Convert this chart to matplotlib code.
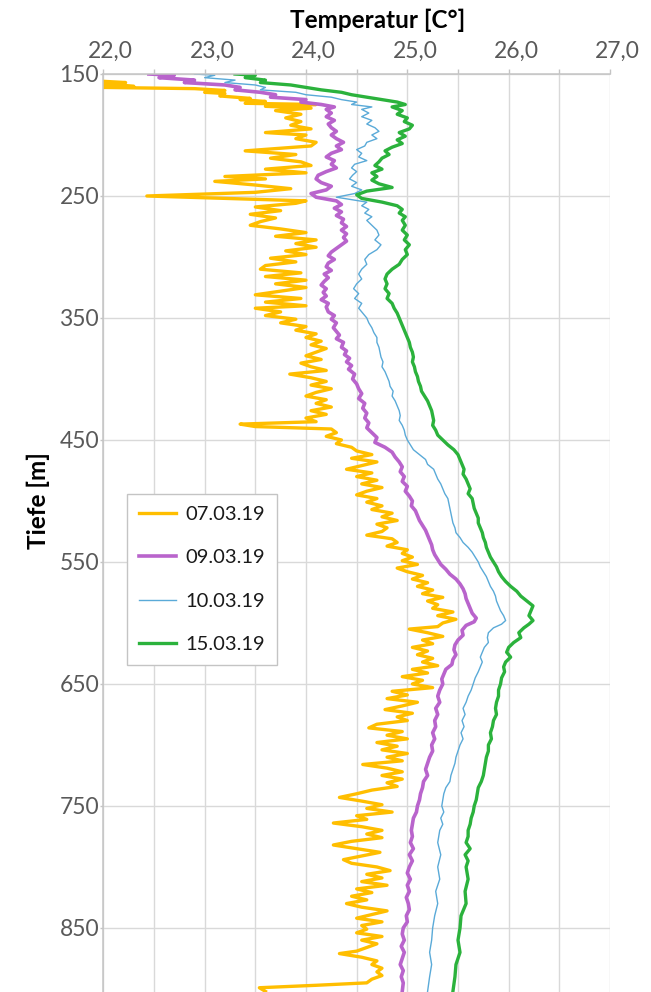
import matplotlib.pyplot as plt
from matplotlib.ticker import MultipleLocator, FuncFormatter
from matplotlib.transforms import ScaledTranslation

plt.rcParams['font.family'] = ['Lato', 'DejaVu Sans']

dates = ['07.03.19', '09.03.19', '10.03.19', '15.03.19']
colors = ['#FFBE00', '#B964CC', '#5AAAD8', '#2BB23C']
widths = [2.4, 2.6, 1.0, 2.4]

# Messung 07.03.19
tiefe_0703 = [156, 157, 158, 160, 161, 162, 163.5, 165, 166, 168, 170, 171, 172.5, 174, 175, 176.5,
              178, 180, 183, 186, 189, 192, 195, 198, 200, 203, 206, 209, 213, 216, 219, 222, 225,
              228, 231, 234, 236, 238, 241, 244, 247, 250, 252, 254, 256, 259, 262, 265, 268, 271,
              274, 277, 280, 283, 286, 289, 292, 295, 298, 301, 304, 307, 310, 313, 316, 319, 322,
              325, 328, 331, 334, 337, 340, 342, 345, 348, 351, 354, 357, 360, 363, 366, 369, 372,
              375, 378, 381, 384, 387, 390, 393, 396, 399, 402, 405, 408, 411, 414, 417, 420, 423,
              426, 429, 432, 435, 437, 439, 441, 444, 447, 450, 453, 456, 459, 462, 465, 468, 471,
              474, 477, 480, 483, 486, 489, 492, 495, 498, 501, 504, 507, 510, 513, 516, 519, 522,
              525, 528, 531, 534, 537, 540, 543, 546, 549, 552, 555, 558, 561, 564, 567, 570, 573,
              576, 579, 582, 585, 588, 591, 594, 597, 600, 603, 605, 608, 611, 614, 617, 620, 623,
              626, 629, 632, 635, 638, 641, 644, 647, 650, 653, 656, 659, 662, 665, 668, 671, 674,
              677, 680, 683, 686, 689, 692, 695, 698, 701, 704, 707, 710, 713, 716, 719, 722, 725,
              728, 731, 734, 737, 740, 743, 746, 749, 752, 755, 758, 761, 764, 767, 770, 773, 776,
              779, 782, 785, 788, 791, 794, 797, 800, 803, 806, 809, 812, 815, 818, 821, 824, 827,
              830, 833, 836, 839, 842, 845, 848, 851, 854, 857, 860, 863, 866, 869, 871, 874, 877,
              880, 883, 886, 889, 892, 895, 897, 899, 902]
temp_0703 = [22.0, 22.22, 22.0, 22.3, 22.0, 22.9, 23.2, 23.0, 23.2, 23.15, 23.45, 23.35, 23.6, 23.4, 24.1, 23.6,
             24.05, 23.7, 23.95, 23.8, 23.95, 23.85, 24.05, 23.6, 24.0, 23.9, 24.1, 24.05, 23.4, 23.9, 23.65, 23.95, 24.05,
             23.6, 24.0, 23.2, 23.6, 23.1, 23.5, 23.85, 23.5, 22.43, 23.2, 24.0, 23.9, 23.5, 23.75, 23.45, 23.7, 23.55,
             23.45, 23.75, 24.0, 23.7, 24.1, 23.9, 24.1, 23.8, 24.0, 23.65, 23.9, 23.6, 23.55, 23.95, 23.6, 24.0, 23.7,
             24.0, 23.75, 23.5, 23.95, 23.6, 24.0, 23.5, 23.75, 23.6, 23.9, 23.75, 24.0, 23.9, 24.1, 24.0, 24.15, 24.05,
             24.2, 24.1, 24.0, 24.15, 23.95, 24.05, 24.2, 23.84, 24.05, 24.2, 24.05, 24.25, 24.1, 24.0, 24.2, 24.1, 24.25,
             24.05, 24.2, 24.0, 24.1, 23.35, 23.5, 24.25, 24.3, 24.2, 24.35, 24.3, 24.45, 24.5, 24.65, 24.45, 24.7, 24.55,
             24.4, 24.65, 24.5, 24.7, 24.55, 24.75, 24.6, 24.5, 24.7, 24.6, 24.75, 24.65, 24.85, 24.75, 24.9, 24.7, 24.8,
             24.75, 24.6, 24.85, 24.9, 24.8, 25.0, 24.95, 25.05, 24.95, 25.1, 24.9, 25.0, 25.15, 25.05, 25.2, 25.1, 25.25,
             25.15, 25.35, 25.2, 25.3, 25.25, 25.45, 25.3, 25.48, 25.35, 25.3, 25.02, 25.2, 25.35, 25.15, 25.25, 25.05, 25.2,
             25.1, 25.25, 25.15, 25.3, 25.05, 25.2, 24.95, 25.15, 25.05, 25.25, 24.85, 25.0, 24.8, 25.1, 24.95, 24.78, 25.05,
             24.9, 25.0, 24.7, 24.62, 24.95, 24.8, 25.0, 24.7, 24.9, 24.75, 25.0, 24.8, 24.95, 24.56, 24.8, 24.95, 24.75,
             24.95, 24.8, 24.9, 24.65, 24.5, 24.33, 24.55, 24.75, 24.6, 24.85, 24.5, 24.6, 24.27, 24.55, 24.75, 24.6, 24.75,
             24.45, 24.27, 24.5, 24.73, 24.55, 24.37, 24.45, 24.7, 24.83, 24.6, 24.75, 24.55, 24.8, 24.5, 24.65, 24.45, 24.6,
             24.4, 24.55, 24.8, 24.65, 24.5, 24.75, 24.55, 24.6, 24.5, 24.75, 24.55, 24.7, 24.6, 24.5, 24.33, 24.55, 24.7,
             24.65, 24.75, 24.7, 24.75, 24.65, 24.6, 24.1, 23.54, 23.6]

# Messung 09.03.19
tiefe_0903 = [150, 151, 153, 155, 157, 159, 161, 163, 165, 167, 169, 171, 173, 175, 177, 179, 182, 185, 188,
              191, 194, 197, 200, 203, 206, 209, 212, 215, 218, 221, 224, 227, 230, 233, 236, 239, 242, 245,
              248, 251, 254, 257, 260, 263, 266, 269, 272, 275, 278, 281, 284, 287, 290, 293, 296, 299, 302,
              305, 308, 311, 314, 317, 320, 323, 326, 329, 332, 335, 338, 341, 345, 348, 351, 354, 358, 361,
              364, 367, 370, 374, 377, 380, 383, 386, 389, 392, 396, 400, 404, 408, 412, 416, 420, 424, 428,
              432, 436, 440, 444, 448, 452, 456, 460, 464, 468, 472, 476, 480, 484, 488, 492, 496, 500, 504,
              508, 512, 516, 520, 524, 528, 532, 536, 540, 544, 548, 552, 556, 560, 564, 568, 572, 576, 580,
              584, 588, 592, 596, 599, 602, 606, 610, 614, 618, 622, 626, 630, 634, 638, 642, 646, 650, 655,
              660, 665, 670, 675, 680, 685, 690, 695, 700, 705, 710, 715, 720, 725, 730, 735, 740, 745, 750,
              755, 760, 765, 770, 775, 780, 785, 790, 795, 800, 805, 810, 815, 820, 825, 830, 835, 840, 845,
              850, 855, 860, 865, 870, 875, 880, 885, 890, 895, 902]
temp_0903 = [22.45, 22.7, 22.55, 22.9, 22.8, 23.2, 23.35, 23.3, 23.55, 23.7, 23.65, 24.0, 23.95, 24.15, 24.28, 24.2, 24.25, 24.2, 24.28,
             24.22, 24.25, 24.3, 24.25, 24.3, 24.37, 24.3, 24.35, 24.25, 24.2, 24.28, 24.25, 24.3, 24.2, 24.12, 24.1, 24.15, 24.25, 24.2,
             24.05, 24.1, 24.3, 24.35, 24.28, 24.35, 24.3, 24.37, 24.35, 24.4, 24.35, 24.4, 24.37, 24.4, 24.35, 24.3, 24.25, 24.22, 24.28,
             24.22, 24.2, 24.25, 24.18, 24.22, 24.18, 24.15, 24.2, 24.17, 24.2, 24.15, 24.22, 24.2, 24.22, 24.28, 24.25, 24.3, 24.27, 24.3,
             24.33, 24.3, 24.37, 24.35, 24.4, 24.38, 24.43, 24.4, 24.45, 24.42, 24.48, 24.46, 24.5, 24.52, 24.55, 24.52, 24.58, 24.56, 24.6,
             24.58, 24.62, 24.6, 24.65, 24.7, 24.68, 24.78, 24.85, 24.88, 24.92, 24.95, 24.93, 24.97, 24.95, 25.0, 24.98, 25.02, 25.05, 25.04,
             25.08, 25.1, 25.12, 25.15, 25.18, 25.2, 25.22, 25.24, 25.25, 25.27, 25.3, 25.33, 25.38, 25.42, 25.48, 25.52, 25.55, 25.57, 25.58,
             25.6, 25.62, 25.64, 25.68, 25.66, 25.58, 25.54, 25.55, 25.5, 25.47, 25.46, 25.48, 25.45, 25.44, 25.38, 25.36, 25.34, 25.35, 25.32,
             25.3, 25.32, 25.28, 25.3, 25.27, 25.28, 25.25, 25.27, 25.24, 25.25, 25.22, 25.2, 25.18, 25.2, 25.16, 25.15, 25.13, 25.12, 25.1,
             25.09, 25.06, 25.05, 25.04, 25.05, 25.03, 25.06, 25.02, 25.05, 25.02, 25.0, 25.03, 25.0, 25.02, 24.99, 25.01, 25.02, 24.99, 25.0,
             24.96, 24.95, 24.97, 24.94, 24.97, 24.95, 24.93, 24.96, 24.94, 24.96, 24.95]

# Messung 10.03.19
tiefe_1003 = [150, 151, 153, 155, 157, 159, 161, 163, 165, 167, 169, 171, 173, 175, 177, 179, 182, 185, 188,
              191, 194, 197, 200, 203, 206, 209, 212, 215, 218, 221, 224, 227, 230, 233, 236, 239, 242, 245,
              248, 251, 253, 255, 258, 261, 264, 267, 270, 274, 278, 282, 286, 290, 294, 298, 302, 306, 310,
              314, 318, 322, 326, 330, 334, 338, 342, 346, 350, 354, 358, 362, 366, 370, 374, 378, 382, 386,
              390, 394, 398, 402, 406, 410, 414, 418, 422, 426, 430, 434, 438, 442, 446, 450, 454, 458, 462,
              466, 470, 474, 478, 482, 486, 490, 494, 498, 502, 506, 510, 514, 518, 522, 526, 530, 534, 538,
              542, 546, 550, 554, 558, 562, 566, 570, 574, 578, 582, 586, 590, 594, 598, 601, 604, 608, 612,
              616, 620, 624, 628, 632, 636, 640, 645, 650, 655, 660, 665, 670, 675, 680, 685, 690, 695, 700,
              705, 710, 715, 720, 725, 730, 735, 740, 745, 750, 755, 760, 765, 770, 780, 790, 800, 810, 820,
              830, 840, 850, 860, 870, 880, 890, 902]
temp_1003 = [22.9, 23.1, 23.0, 23.3, 23.2, 23.5, 23.6, 23.55, 23.9, 24.0, 24.25, 24.35, 24.5, 24.45, 24.65, 24.55, 24.62, 24.55, 24.65,
             24.6, 24.68, 24.72, 24.65, 24.7, 24.6, 24.58, 24.5, 24.55, 24.52, 24.6, 24.48, 24.45, 24.5, 24.46, 24.43, 24.5, 24.45, 24.55,
             24.48, 24.3, 24.45, 24.6, 24.55, 24.62, 24.58, 24.65, 24.6, 24.65, 24.7, 24.72, 24.68, 24.74, 24.7, 24.62, 24.58, 24.6, 24.55,
             24.52, 24.55, 24.5, 24.47, 24.52, 24.48, 24.55, 24.52, 24.56, 24.6, 24.62, 24.65, 24.67, 24.7, 24.7, 24.72, 24.73, 24.74, 24.76,
             24.75, 24.78, 24.8, 24.82, 24.83, 24.86, 24.85, 24.88, 24.9, 24.92, 24.93, 24.92, 24.95, 24.97, 24.98, 25.0, 25.03, 25.06, 25.12,
             25.18, 25.2, 25.26, 25.28, 25.3, 25.33, 25.35, 25.37, 25.4, 25.41, 25.42, 25.43, 25.44, 25.45, 25.47, 25.48, 25.52, 25.55, 25.6,
             25.64, 25.67, 25.7, 25.72, 25.75, 25.78, 25.8, 25.82, 25.85, 25.87, 25.88, 25.9, 25.92, 25.95, 25.97, 25.93, 25.85, 25.8, 25.79,
             25.8, 25.76, 25.74, 25.72, 25.74, 25.72, 25.7, 25.67, 25.65, 25.63, 25.6, 25.58, 25.55, 25.57, 25.54, 25.56, 25.53, 25.55, 25.52,
             25.5, 25.48, 25.47, 25.45, 25.43, 25.42, 25.38, 25.36, 25.35, 25.34, 25.36, 25.33, 25.35, 25.32, 25.3, 25.33, 25.3, 25.32, 25.28,
             25.3, 25.27, 25.25, 25.24, 25.22, 25.24, 25.22, 25.2]

# Messung 15.03.19
tiefe_1503 = [150, 151, 153, 155, 157, 159, 161, 163, 165, 167, 169, 171, 173, 175, 177, 180, 183, 186, 189,
              192, 195, 198, 201, 204, 207, 210, 213, 216, 219, 222, 225, 228, 231, 234, 237, 240, 243, 246,
              249, 252, 255, 258, 261, 264, 267, 270, 274, 278, 282, 286, 290, 294, 298, 302, 306, 310, 314,
              318, 322, 326, 330, 334, 338, 342, 346, 350, 354, 358, 362, 366, 370, 374, 378, 382, 386, 390,
              394, 398, 402, 406, 410, 414, 418, 422, 426, 430, 434, 438, 442, 446, 450, 454, 458, 462, 466,
              470, 474, 478, 482, 486, 490, 494, 498, 502, 506, 510, 514, 518, 522, 526, 530, 534, 538, 542,
              546, 550, 554, 558, 562, 566, 570, 574, 578, 582, 586, 590, 594, 598, 601, 604, 608, 612, 616,
              620, 624, 628, 632, 636, 640, 645, 650, 655, 660, 665, 670, 675, 680, 685, 690, 695, 700, 705,
              710, 715, 720, 725, 730, 735, 740, 745, 750, 755, 760, 765, 770, 775, 780, 785, 790, 795, 800,
              810, 820, 830, 840, 850, 860, 870, 880, 890, 902]
temp_1503 = [23.3, 23.5, 23.4, 23.6, 23.55, 23.85, 24.0, 24.15, 24.35, 24.45, 24.6, 24.75, 24.9, 24.98, 24.85, 24.95, 24.9, 25.0, 24.97,
             25.05, 25.02, 24.92, 24.98, 24.9, 24.95, 24.85, 24.78, 24.82, 24.75, 24.72, 24.68, 24.75, 24.65, 24.7, 24.65, 24.72, 24.85, 24.6,
             24.5, 24.55, 24.75, 24.9, 24.95, 24.92, 24.98, 24.95, 24.98, 24.95, 25.0, 24.97, 25.02, 24.98, 25.0, 24.95, 24.92, 24.85, 24.8,
             24.78, 24.8, 24.78, 24.82, 24.8, 24.85, 24.87, 24.9, 24.92, 24.94, 24.96, 24.98, 25.0, 25.02, 25.03, 25.05, 25.06, 25.05, 25.07,
             25.08, 25.1, 25.11, 25.13, 25.14, 25.17, 25.2, 25.22, 25.24, 25.25, 25.26, 25.25, 25.28, 25.3, 25.35, 25.4, 25.46, 25.5, 25.52,
             25.54, 25.56, 25.55, 25.58, 25.6, 25.62, 25.6, 25.64, 25.65, 25.66, 25.68, 25.7, 25.7, 25.72, 25.74, 25.75, 25.77, 25.78, 25.8,
             25.82, 25.85, 25.88, 25.9, 25.93, 25.97, 26.02, 26.08, 26.12, 26.18, 26.24, 26.22, 26.2, 26.24, 26.2, 26.15, 26.1, 26.12, 26.05,
             26.0, 25.98, 26.02, 25.97, 25.95, 25.96, 25.93, 25.92, 25.9, 25.9, 25.88, 25.87, 25.88, 25.85, 25.84, 25.82, 25.83, 25.8, 25.8,
             25.78, 25.77, 25.76, 25.75, 25.73, 25.7, 25.69, 25.68, 25.66, 25.65, 25.63, 25.62, 25.6, 25.6, 25.58, 25.62, 25.57, 25.6, 25.58,
             25.6, 25.57, 25.58, 25.53, 25.52, 25.5, 25.52, 25.48, 25.47, 25.45]

tiefen = [tiefe_0703, tiefe_0903, tiefe_1003, tiefe_1503]
temps = [temp_0703, temp_0903, temp_1003, temp_1503]

fig = plt.figure(figsize=(6.51, 9.92), dpi=100)
ax = fig.add_axes([103.3 / 651, 0, 506.7 / 651, 918 / 992])

for t, d, c, w, lab in zip(temps, tiefen, colors, widths, dates):
    ax.plot(t, d, color=c, lw=w, label=lab, solid_joinstyle='round')

ax.set_xlim(22, 27)
ax.set_ylim(902.5, 150)
ax.xaxis.tick_top()
ax.xaxis.set_major_locator(MultipleLocator(0.5))
ax.xaxis.set_major_formatter(FuncFormatter(
    lambda v, p: f'{v:.1f}'.replace('.', ',') if abs(v - round(v)) < 1e-6 else ''))
ax.set_yticks(range(150, 900, 100))

ax.grid(True, color='#d9d9d9', lw=1.0)
ax.set_axisbelow(True)
for s in ['right', 'bottom']:
    ax.spines[s].set_visible(False)
for s in ['top', 'left']:
    ax.spines[s].set_color('#c4c4c4')
    ax.spines[s].set_linewidth(1.1)

ax.tick_params(axis='x', which='major', top=True, bottom=False, length=3.6, width=1.0,
               color='#c4c4c4', labelsize=16.5, labelcolor='#595959', pad=5)
ax.tick_params(axis='y', length=2.5, width=1.0, color='#c4c4c4',
               labelsize=16.5, labelcolor='#595959', pad=0.5)

# Beschriftungen der Temperaturachse leicht nach rechts versetzt
shift = ScaledTranslation(0.075, 0, fig.dpi_scale_trans)
for lbl in ax.xaxis.get_majorticklabels():
    lbl.set_transform(lbl.get_transform() + shift)

fig.text(378 / 651, 1 - 28 / 992, 'Temperatur [C°]', ha='center', va='baseline',
         fontsize=17.5, fontweight='bold', color='black')
fig.text(38 / 651, 1 - 501 / 992, 'Tiefe [m]', ha='center', va='center', rotation=90,
         fontsize=17.5, fontweight='bold', color='black')

leg = ax.legend(loc='upper left', bbox_to_anchor=((127 - 103.3) / 506.7, (992 - 494) / 918),
                borderaxespad=0, fontsize=14.5, handlelength=1.85, handletextpad=0.45,
                labelspacing=1.3, borderpad=0.6, fancybox=False, framealpha=1,
                edgecolor='#c4c4c4')
leg.get_frame().set_linewidth(1.0)
for txt in leg.get_texts():
    txt.set_color('#1a1a1a')

fig.savefig('out.png', dpi=100)
